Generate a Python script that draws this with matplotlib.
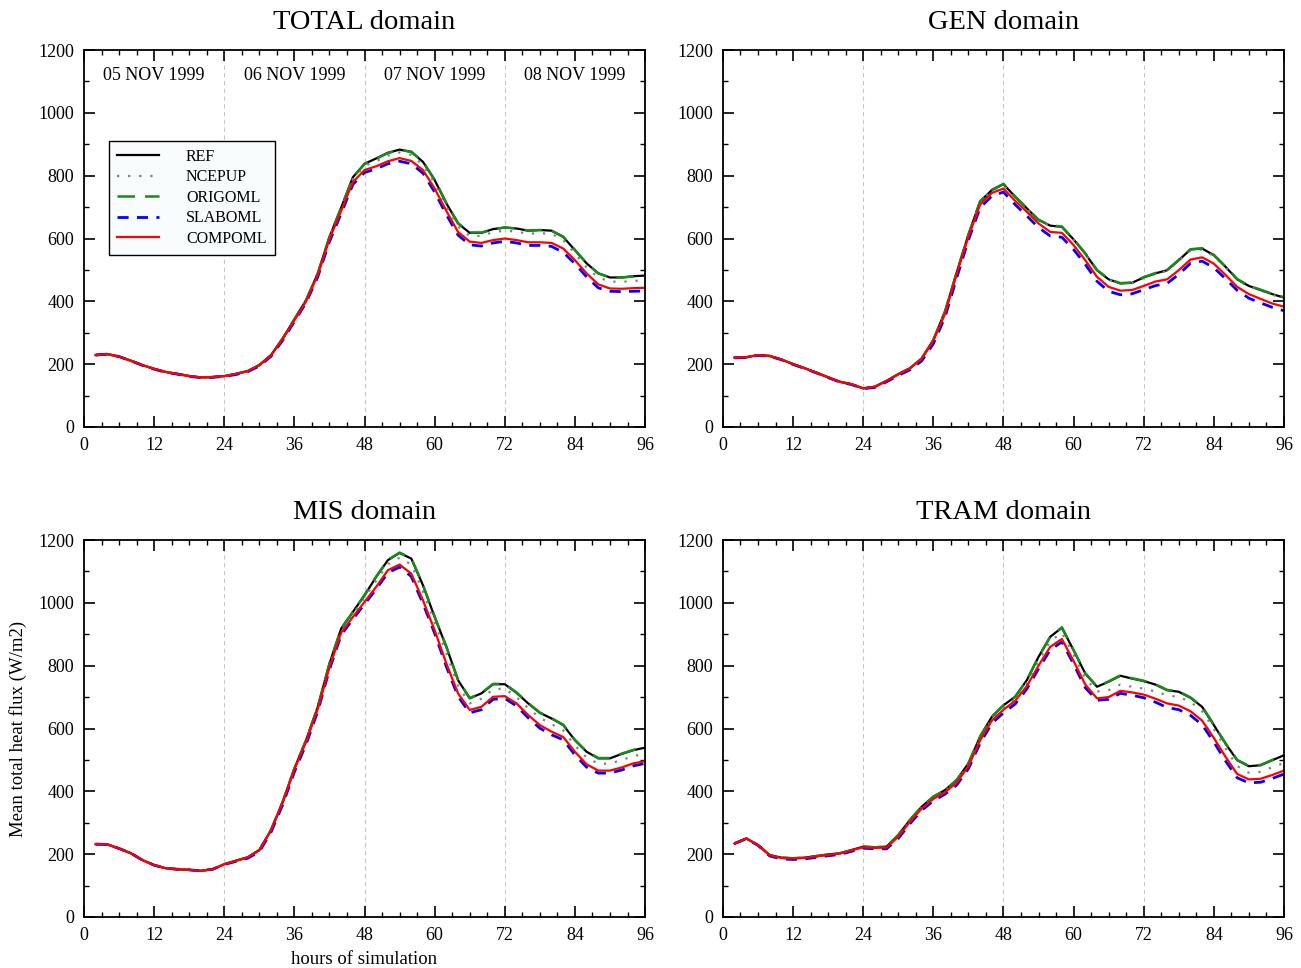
"""Domain-mean total heat flux for the ocean mixed-layer experiments."""

import matplotlib

matplotlib.use("Agg")
import matplotlib.pyplot as plt
import numpy as np
from matplotlib.ticker import MultipleLocator

plt.rcParams["font.family"] = ["Liberation Serif", "DejaVu Serif"]

HOURS = np.arange(2, 97, 2)

EXPERIMENTS = ["REF", "NCEPUP", "ORIGOML", "SLABOML", "COMPOML"]
DAY_LABELS = ["05 NOV 1999", "06 NOV 1999", "07 NOV 1999", "08 NOV 1999"]
DAY_CENTRES = [12, 36, 60, 84]

# TOTAL domain
total_ref = [229, 232, 224, 211, 197, 185, 175, 169, 162, 158, 159, 162, 169, 178, 197, 229,
             282, 343, 404, 489, 605, 698, 795, 838, 855, 873, 883, 876, 844, 786, 712, 648,
             618, 618, 630, 635, 632, 625, 627, 625, 605, 563, 521, 489, 476, 476, 480, 482]
total_ncepup = [229, 232, 224, 211, 197, 185, 175, 169, 162, 158, 159, 162, 169, 178, 197, 229,
                281, 342, 403, 488, 603, 695, 790, 831, 846, 864, 874, 866, 834, 776, 702, 638,
                608, 608, 620, 625, 622, 615, 617, 615, 595, 552, 508, 476, 463, 462, 465, 467]
total_origoml = [229, 232, 224, 211, 197, 185, 175, 169, 162, 158, 159, 162, 169, 178, 197, 229,
                 282, 343, 404, 489, 605, 698, 794, 837, 854, 872, 882, 876, 845, 787, 713, 649,
                 619, 619, 630, 635, 632, 625, 627, 625, 606, 564, 521, 489, 476, 476, 479, 481]
total_slaboml = [229, 232, 224, 211, 196, 184, 174, 168, 161, 157, 158, 161, 167, 176, 194, 225,
                 276, 336, 396, 478, 590, 680, 772, 810, 822, 838, 846, 838, 808, 748, 676, 611,
                 580, 576, 586, 591, 586, 578, 578, 575, 556, 520, 478, 443, 432, 431, 432, 433]
total_compoml = [229, 232, 224, 211, 197, 185, 175, 169, 162, 158, 159, 162, 169, 178, 197, 228,
                 280, 340, 400, 484, 598, 688, 780, 818, 830, 846, 856, 847, 818, 759, 688, 621,
                 590, 586, 595, 600, 595, 588, 588, 586, 568, 531, 489, 454, 441, 440, 442, 443]

# GEN domain
gen_ref = [221, 222, 229, 226, 215, 200, 187, 173, 158, 144, 136, 123, 128, 147, 168, 187,
           218, 277, 368, 492, 612, 718, 754, 773, 733, 696, 659, 641, 637, 597, 552, 499,
           470, 457, 459, 476, 489, 499, 531, 565, 568, 547, 510, 470, 449, 436, 423, 412]
gen_ncepup = [221, 222, 229, 226, 215, 200, 187, 173, 158, 144, 136, 123, 128, 147, 168, 187,
              218, 276, 366, 491, 611, 716, 752, 770, 731, 695, 658, 640, 636, 596, 551, 498,
              469, 456, 458, 474, 487, 497, 529, 562, 565, 544, 508, 468, 447, 434, 421, 410]
gen_origoml = [221, 222, 229, 226, 215, 200, 187, 173, 158, 144, 136, 123, 128, 147, 168, 187,
               218, 277, 368, 492, 612, 718, 755, 774, 734, 697, 660, 642, 638, 598, 553, 500,
               471, 458, 460, 477, 490, 500, 532, 566, 569, 548, 511, 471, 450, 437, 424, 413]
gen_slaboml = [220, 221, 228, 225, 214, 199, 186, 172, 157, 143, 135, 122, 126, 144, 164, 182,
               210, 265, 350, 475, 595, 698, 735, 748, 708, 672, 635, 608, 604, 565, 518, 464,
               432, 421, 424, 437, 450, 457, 486, 521, 528, 507, 472, 435, 410, 395, 381, 370]
gen_compoml = [221, 222, 229, 226, 215, 200, 187, 173, 158, 144, 136, 123, 128, 147, 168, 187,
               217, 275, 360, 488, 605, 708, 745, 759, 720, 685, 648, 621, 618, 579, 531, 478,
               446, 434, 436, 449, 463, 470, 499, 533, 540, 520, 484, 446, 423, 408, 393, 383]

# MIS domain
mis_ref = [232, 231, 218, 203, 181, 165, 155, 152, 150, 147, 152, 168, 179, 190, 213, 277,
           367, 473, 563, 669, 807, 918, 971, 1024, 1083, 1136, 1159, 1141, 1056, 955, 860, 754,
           696, 712, 741, 741, 714, 680, 650, 632, 611, 563, 526, 505, 505, 519, 531, 539]
mis_ncepup = [232, 231, 218, 203, 181, 165, 155, 152, 150, 147, 152, 168, 179, 190, 213, 277,
              366, 472, 561, 667, 803, 913, 965, 1016, 1071, 1123, 1144, 1122, 1037, 937, 840, 736,
              680, 695, 725, 727, 700, 665, 634, 614, 594, 546, 508, 488, 488, 500, 512, 520]
mis_origoml = [232, 231, 218, 203, 181, 165, 155, 152, 150, 147, 152, 168, 179, 190, 213, 277,
               367, 473, 563, 669, 807, 918, 971, 1025, 1084, 1137, 1160, 1142, 1057, 956, 861, 755,
               697, 713, 742, 742, 715, 681, 651, 633, 612, 564, 527, 506, 506, 520, 532, 540]
mis_slaboml = [232, 231, 218, 203, 181, 165, 155, 152, 150, 147, 152, 167, 177, 187, 208, 270,
               358, 462, 550, 655, 788, 898, 948, 996, 1044, 1096, 1114, 1084, 998, 903, 797, 702,
               650, 660, 693, 696, 672, 634, 601, 580, 564, 516, 477, 458, 458, 468, 481, 489]
mis_compoml = [232, 231, 218, 203, 181, 165, 155, 152, 150, 147, 152, 168, 179, 190, 213, 276,
               365, 470, 558, 662, 795, 905, 955, 1003, 1051, 1104, 1122, 1093, 1008, 913, 807, 712,
               659, 669, 701, 703, 680, 643, 611, 590, 573, 526, 486, 466, 466, 476, 489, 496]

# TRAM domain
tram_ref = [234, 250, 229, 197, 189, 187, 189, 194, 199, 203, 213, 224, 222, 224, 261, 309,
            351, 383, 404, 436, 489, 574, 637, 674, 701, 754, 828, 892, 921, 849, 775, 733,
            749, 768, 759, 751, 740, 722, 717, 698, 669, 611, 552, 499, 480, 483, 499, 515]
tram_ncepup = [234, 250, 229, 196, 187, 185, 187, 192, 197, 201, 211, 222, 220, 222, 258, 306,
               348, 380, 401, 432, 485, 568, 630, 667, 694, 745, 815, 878, 905, 835, 760, 718,
               722, 740, 733, 727, 718, 706, 700, 685, 655, 598, 537, 480, 459, 462, 477, 490]
tram_origoml = [234, 250, 229, 197, 189, 187, 189, 194, 199, 203, 213, 224, 222, 224, 261, 309,
                351, 383, 404, 436, 489, 574, 637, 674, 701, 754, 828, 892, 922, 850, 776, 734,
                750, 769, 760, 752, 741, 723, 718, 699, 670, 612, 553, 500, 481, 484, 500, 516]
tram_slaboml = [234, 249, 228, 194, 185, 183, 185, 190, 195, 199, 209, 219, 217, 217, 250, 297,
                339, 370, 391, 420, 472, 553, 616, 650, 678, 726, 790, 850, 876, 805, 730, 690,
                693, 712, 706, 698, 684, 667, 660, 642, 612, 557, 497, 443, 427, 429, 441, 455]
tram_compoml = [234, 250, 229, 196, 188, 186, 188, 193, 198, 202, 212, 222, 220, 221, 256, 303,
                345, 376, 397, 428, 480, 562, 625, 660, 688, 735, 800, 860, 885, 815, 740, 696,
                700, 720, 715, 708, 695, 680, 673, 655, 625, 570, 510, 455, 438, 440, 452, 466]

STYLES = {
    "REF": dict(color="black", linestyle="-", linewidth=1.6),
    "NCEPUP": dict(color="#808080", linestyle=(0, (1, 4)), linewidth=1.6),
    "ORIGOML": dict(color="#1a8a1a", linestyle=(0, (7, 4)), linewidth=1.8),
    "SLABOML": dict(color="#0000ff", linestyle=(0, (4, 3)), linewidth=2.0),
    "COMPOML": dict(color="#ff0000", linestyle="-", linewidth=1.6),
}

# axes boxes [left, bottom, width, height] in figure fraction
PANELS = [
    ("TOTAL domain", [0.0646, 0.5589, 0.4312, 0.3894],
     [total_ref, total_ncepup, total_origoml, total_slaboml, total_compoml]),
    ("GEN domain", [0.5557, 0.5589, 0.4312, 0.3894],
     [gen_ref, gen_ncepup, gen_origoml, gen_slaboml, gen_compoml]),
    ("MIS domain", [0.0646, 0.0527, 0.4312, 0.3894],
     [mis_ref, mis_ncepup, mis_origoml, mis_slaboml, mis_compoml]),
    ("TRAM domain", [0.5557, 0.0527, 0.4312, 0.3894],
     [tram_ref, tram_ncepup, tram_origoml, tram_slaboml, tram_compoml]),
]


def _style_axes(ax) -> None:
    ax.set_xlim(0, 96)
    ax.set_ylim(0, 1200)
    ax.xaxis.set_major_locator(MultipleLocator(12))
    ax.xaxis.set_minor_locator(MultipleLocator(3))
    ax.yaxis.set_major_locator(MultipleLocator(200))
    ax.yaxis.set_minor_locator(MultipleLocator(100))
    ax.tick_params(which="both", direction="in", top=True, right=True, labelsize=13)
    ax.tick_params(which="major", length=8, width=1.2, pad=7)
    ax.tick_params(which="minor", length=3.5, width=1.0)
    for spine in ax.spines.values():
        spine.set_linewidth(1.3)
    for day in (24, 48, 72):
        ax.axvline(day, color="#c8c8c8", linestyle=(0, (4, 3)), linewidth=0.8, zorder=0)


def _plot_panel(fig, title, box, series) -> plt.Axes:
    ax = fig.add_axes(box)
    _style_axes(ax)
    for name, values in zip(EXPERIMENTS, series):
        ax.plot(HOURS, values, label=name, solid_joinstyle="round", **STYLES[name])
    ax.set_title(title, fontsize=20.5, pad=15)
    return ax


def main() -> None:
    fig = plt.figure(figsize=(13.01, 9.68), dpi=100)
    axes = [_plot_panel(fig, title, box, series) for title, box, series in PANELS]

    ax_total = axes[0]
    for label, centre in zip(DAY_LABELS, DAY_CENTRES):
        ax_total.text(centre, 1120, label, ha="center", va="center", fontsize=13)
    leg = ax_total.legend(
        loc="upper left", bbox_to_anchor=(0.045, 0.759), borderaxespad=0.0,
        fontsize=11.5, handlelength=2.6, handletextpad=1.7, labelspacing=0.28,
        borderpad=0.5, fancybox=False, framealpha=1.0,
        edgecolor="black", facecolor="#f8fcfc",
    )
    leg.get_frame().set_linewidth(1.0)

    ax_mis = axes[2]
    ax_mis.set_ylabel("Mean total heat flux (W/m2)", fontsize=13.5, labelpad=8)
    ax_mis.set_xlabel("hours of simulation", fontsize=13.5, labelpad=5)

    fig.savefig("out.png", dpi=100)
    plt.close(fig)


if __name__ == "__main__":
    main()
